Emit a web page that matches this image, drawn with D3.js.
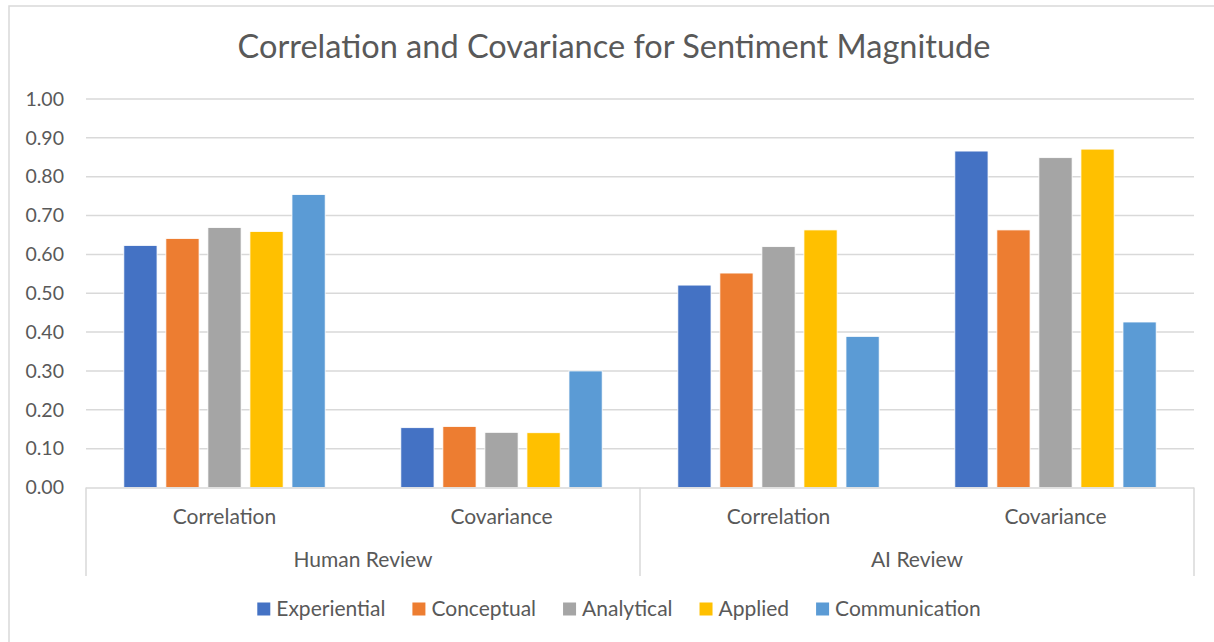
<!DOCTYPE html>
<html>
<head>
  <meta charset="utf-8">
  <title>Correlation and Covariance for Sentiment Magnitude</title>
  <style>
    body { margin: 0; background: #fff; }
    svg { display: block; font-family: Lato, "Open Sans", sans-serif; }
  </style>
</head>
<body>
  <svg width="1214" height="642"></svg>
  <script src="https://cdn.jsdelivr.net/npm/d3@7"></script>
  <script>
  // data
  var groups = ["Human Review", "AI Review"];
  var measures = ["Correlation", "Covariance"];
  var seriesNames = ["Experiential", "Conceptual", "Analytical", "Applied", "Communication"];
  var colors = ["#4472C4", "#ED7D31", "#A5A5A5", "#FFC000", "#5B9BD5"];
  var yTicks = [0, 0.1, 0.2, 0.3, 0.4, 0.5, 0.6, 0.7, 0.8, 0.9, 1.0];

  // one value per category: Human Corr, Human Cov, AI Corr, AI Cov
  var experiential  = [0.623, 0.154, 0.521, 0.866];
  var conceptual    = [0.641, 0.157, 0.552, 0.663];
  var analytical    = [0.669, 0.142, 0.620, 0.849];
  var applied       = [0.659, 0.141, 0.663, 0.871];
  var communication = [0.754, 0.300, 0.389, 0.426];
  var seriesValues = [experiential, conceptual, analytical, applied, communication];

  var svg = d3.select("svg");
  var textColor = "#595959";

  // outer chart border
  svg.append("rect")
    .attr("x", 9).attr("y", 6)
    .attr("width", 1214).attr("height", 660)
    .attr("fill", "none")
    .attr("stroke", "#d9d9d9")
    .attr("stroke-width", 1.5);

  var plotLeft = 86, plotRight = 1194, plotTop = 99, plotBottom = 487.5;

  var categories = [];
  groups.forEach(function(g) {
    measures.forEach(function(m) { categories.push(g + "|" + m); });
  });

  var x0 = d3.scaleBand().domain(categories).range([plotLeft, plotRight]).paddingInner(0).paddingOuter(0);
  var x1 = d3.scaleBand().domain(seriesNames)
    .range([0, x0.bandwidth()]).paddingInner(0.21).paddingOuter(0.9);
  var y = d3.scaleLinear().domain([0, 1]).range([plotBottom, plotTop]);

  // title
  svg.append("text")
    .attr("x", 614).attr("y", 58)
    .attr("text-anchor", "middle")
    .attr("font-size", 32.5)
    .attr("fill", textColor)
    .text("Correlation and Covariance for Sentiment Magnitude");

  // gridlines
  svg.append("g").selectAll("line")
    .data(yTicks.slice(1))
    .enter().append("line")
    .attr("x1", plotLeft).attr("x2", plotRight)
    .attr("y1", function(d) { return y(d); })
    .attr("y2", function(d) { return y(d); })
    .attr("stroke", "#d9d9d9")
    .attr("stroke-width", 1.5);

  // y axis labels
  var yAxis = d3.axisLeft(y).tickValues(yTicks).tickFormat(d3.format(".2f")).tickSize(0).tickPadding(22);
  var yg = svg.append("g").attr("transform", "translate(" + plotLeft + ",0)").call(yAxis);
  yg.select(".domain").remove();
  yg.selectAll("text")
    .attr("font-family", "Lato, 'Open Sans', sans-serif")
    .attr("font-size", 19.5)
    .attr("fill", textColor);

  // bars
  var cat = svg.append("g").selectAll("g")
    .data(categories)
    .enter().append("g")
    .attr("transform", function(d) { return "translate(" + x0(d) + ",0)"; });

  cat.selectAll("rect")
    .data(function(d, ci) {
      return seriesNames.map(function(s, si) { return { s: s, si: si, v: seriesValues[si][ci] }; });
    })
    .enter().append("rect")
    .attr("x", function(d) { return x1(d.s); })
    .attr("width", x1.bandwidth())
    .attr("y", function(d) { return y(d.v); })
    .attr("height", function(d) { return y(0) - y(d.v); })
    .attr("fill", function(d) { return colors[d.si]; })
    .attr("stroke", "#fff")
    .attr("stroke-width", 0.8);

  // category axis
  var axisColor = "#d9d9d9";
  var axisBottom = 576;
  svg.append("line")
    .attr("x1", plotLeft).attr("x2", plotRight)
    .attr("y1", plotBottom + 0.5).attr("y2", plotBottom + 0.5)
    .attr("stroke", axisColor).attr("stroke-width", 1.5);

  var groupEdges = [plotLeft].concat(groups.map(function(g) { return x0(g + "|" + measures[measures.length - 1]) + x0.bandwidth(); }));
  svg.append("g").selectAll("line")
    .data(groupEdges)
    .enter().append("line")
    .attr("x1", function(d) { return d; }).attr("x2", function(d) { return d; })
    .attr("y1", plotBottom).attr("y2", axisBottom)
    .attr("stroke", axisColor).attr("stroke-width", 1.5);

  svg.append("g").selectAll("text")
    .data(categories)
    .enter().append("text")
    .attr("x", function(d) { return x0(d) + x0.bandwidth() / 2; })
    .attr("y", 524)
    .attr("text-anchor", "middle")
    .attr("font-size", 21)
    .attr("fill", textColor)
    .text(function(d) { return d.split("|")[1]; });

  svg.append("g").selectAll("text")
    .data(groups)
    .enter().append("text")
    .attr("x", function(g) {
      return (x0(g + "|" + measures[0]) + x0(g + "|" + measures[measures.length - 1]) + x0.bandwidth()) / 2;
    })
    .attr("y", 567)
    .attr("text-anchor", "middle")
    .attr("font-size", 21)
    .attr("fill", textColor)
    .text(function(g) { return g; });

  // legend
  var legend = svg.append("g").attr("transform", "translate(0,609)");
  var item = legend.selectAll("g")
    .data(seriesNames)
    .enter().append("g");
  item.append("rect")
    .attr("y", -6.5).attr("width", 13).attr("height", 13)
    .attr("fill", function(d, i) { return colors[i]; });
  item.append("text")
    .attr("x", 19).attr("y", 7)
    .attr("font-size", 21)
    .attr("fill", textColor)
    .text(function(d) { return d; });

  // lay legend out centred
  var gap = 27, pos = 0, widths = [];
  item.each(function() { widths.push(this.getBBox().width); });
  var total = d3.sum(widths) + gap * (widths.length - 1);
  pos = 619 - total / 2;
  item.attr("transform", function(d, i) {
    var t = "translate(" + pos + ",0)";
    pos += widths[i] + gap;
    return t;
  });
  </script>
</body>
</html>
